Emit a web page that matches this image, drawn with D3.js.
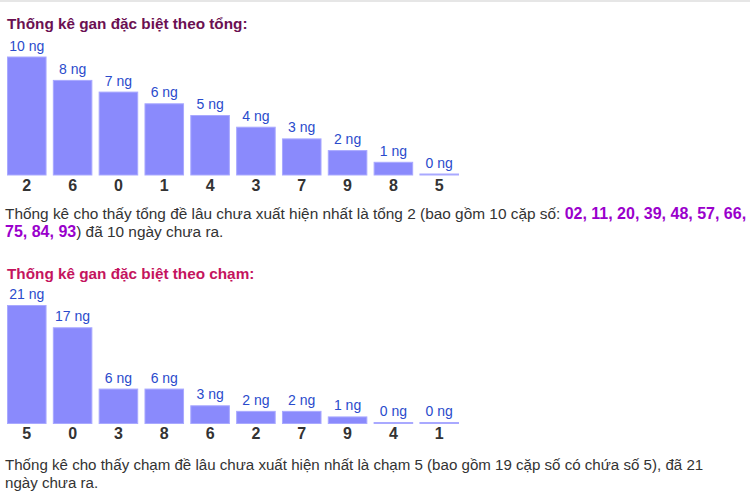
<!DOCTYPE html>
<html><head><meta charset="utf-8">
<script src="https://cdn.jsdelivr.net/npm/d3@7"></script>
<style>
html,body{margin:0;padding:0;background:#fff;}
svg{display:block;font-family:Arial,"Liberation Sans",sans-serif;}
</style></head>
<body><svg id="c" width="750" height="497"></svg>
<script>
// ---- data ----
const tongTitle = "Thống kê gan đặc biệt theo tổng:";
const tongCats = ["2","6","0","1","4","3","7","9","8","5"];
const tongVals = [10,8,7,6,5,4,3,2,1,0];
const tongText1 = "Thống kê cho thấy tổng đề lâu chưa xuất hiện nhất là tổng 2 (bao gồm 10 cặp số: ";
const tongBold1 = "02, 11, 20, 39, 48, 57, 66,";
const tongBold2 = "75, 84, 93";
const tongText2 = ") đã 10 ngày chưa ra.";

const chamTitle = "Thống kê gan đặc biệt theo chạm:";
const chamCats = ["5","0","3","8","6","2","7","9","4","1"];
const chamVals = [21,17,6,6,3,2,2,1,0,0];
const chamText1 = "Thống kê cho thấy chạm đề lâu chưa xuất hiện nhất là chạm 5 (bao gồm 19 cặp số có chứa số 5), đã 21";
const chamText2 = "ngày chưa ra.";

const unit = " ng";

const svg = d3.select("#c");
svg.append("rect").attr("x",0).attr("y",0).attr("width",750).attr("height",2).attr("fill","#e6e6e6");

function chart(cfg){
  const g = svg.append("g");
  g.append("text").attr("x",7).attr("y",cfg.titleY)
    .attr("font-size",15.3).attr("font-weight","bold").attr("fill",cfg.titleColor)
    .text(cfg.title);
  const x = d3.scaleBand().domain(d3.range(cfg.cats.length)).range([7,459]).paddingInner(0.137).paddingOuter(0);
  const y = d3.scaleLinear().domain([0,d3.max(cfg.vals)]).range([cfg.bottom-2, cfg.bottom-119]);
  const bars = g.selectAll("g.bar").data(cfg.vals).join("g").attr("class","bar");
  bars.append("rect")
    .attr("x",(d,i)=>x(i)+0.5).attr("width",x.bandwidth()-1)
    .attr("y",d=>y(d)+0.5).attr("height",d=>cfg.bottom - y(d)-1)
    .attr("fill","#8a8afc").attr("stroke","#a9a9ff").attr("stroke-width",1);
  bars.append("text").attr("x",(d,i)=>x(i)+x.bandwidth()/2).attr("y",d=>y(d)-6)
    .attr("text-anchor","middle").attr("font-size",14).attr("fill","#2a4bcc")
    .text(d=>d+unit);
  const ax = d3.axisBottom(x).tickSize(0).tickFormat(i=>cfg.cats[i]);
  const axg = g.append("g").attr("transform",`translate(0,${cfg.bottom})`).call(ax);
  axg.select(".domain").remove();
  axg.selectAll("text").attr("font-size",16).attr("font-weight","bold").attr("fill","#333")
    .attr("dy",null).attr("y",15).attr("font-family","Arial, 'Liberation Sans', sans-serif");
}

chart({title:tongTitle,titleColor:"#6b1052",titleY:29,cats:tongCats,vals:tongVals,bottom:175.5});
chart({title:chamTitle,titleColor:"#c4145e",titleY:279,cats:chamCats,vals:chamVals,bottom:424});

const pSize = 15.4;
const t1 = svg.append("text").attr("x",5).attr("y",219).attr("font-size",pSize).attr("fill","#333");
t1.append("tspan").text(tongText1);
t1.append("tspan").attr("font-weight","bold").attr("font-size",16).attr("fill","#9a00cc").text(tongBold1);
const t2 = svg.append("text").attr("x",5).attr("y",237).attr("font-size",pSize).attr("fill","#333");
t2.append("tspan").attr("font-weight","bold").attr("font-size",16).attr("fill","#9a00cc").text(tongBold2);
t2.append("tspan").text(tongText2);

svg.append("text").attr("x",5).attr("y",470).attr("font-size",15.1).attr("fill","#333").text(chamText1);
svg.append("text").attr("x",5).attr("y",488).attr("font-size",15.1).attr("fill","#333").text(chamText2);
</script></body></html>
